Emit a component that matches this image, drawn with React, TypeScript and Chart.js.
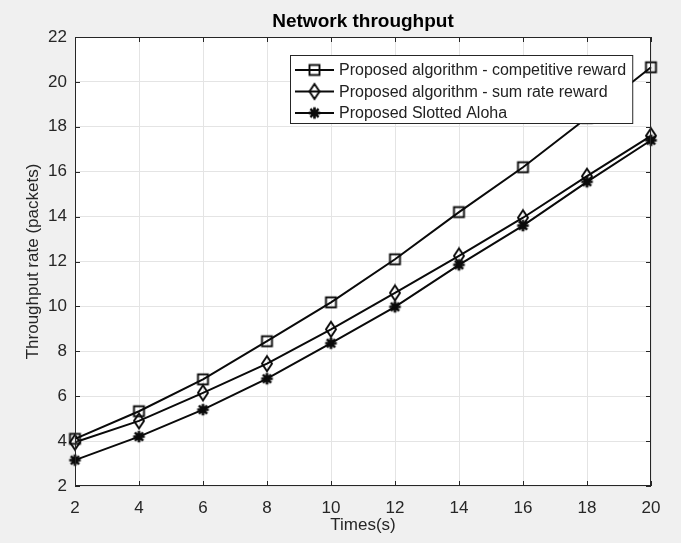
import React, { useEffect, useRef } from 'react';
import { Chart, registerables } from 'chart.js';

Chart.register(...registerables);

// ---- data ----
const times = [2, 4, 6, 8, 10, 12, 14, 16, 18, 20];
const competitiveReward = [4.1, 5.33, 6.75, 8.45, 10.18, 12.1, 14.2, 16.2, 18.4, 20.65];
const sumRateReward = [3.95, 4.9, 6.15, 7.45, 8.98, 10.6, 12.25, 13.95, 15.8, 17.6];
const slottedAloha = [3.15, 4.2, 5.4, 6.78, 8.36, 9.98, 11.85, 13.6, 15.55, 17.4];
const seriesLabels = [
  'Proposed algorithm - competitive reward',
  'Proposed algorithm - sum rate reward',
  'Proposed Slotted Aloha',
];
const chartTitle = 'Network throughput';
const xTitle = 'Times(s)';
const yTitle = 'Throughput rate (packets)';
const xMin = 2, xMax = 20, xStep = 2;
const yMin = 2, yMax = 22, yStep = 2;

const FONT = '"Liberation Sans", Arial, Helvetica, sans-serif';
const INK = '#0a0a0a';
const AXIS = '#262626';

function makeMarker(kind: string): HTMLCanvasElement {
  const c = document.createElement('canvas');
  const w = kind === 'diamond' ? 14 : 15;
  const h = kind === 'diamond' ? 19 : 15;
  c.width = w; c.height = h;
  const g = c.getContext('2d')!;
  g.strokeStyle = INK;
  g.lineWidth = 1.9;
  const cx = w / 2, cy = h / 2;
  if (kind === 'square') {
    g.strokeRect(cx - 5, cy - 5, 10, 10);
  } else if (kind === 'diamond') {
    g.beginPath();
    g.moveTo(cx, cy - 7.5);
    g.lineTo(cx + 5, cy);
    g.lineTo(cx, cy + 7.5);
    g.lineTo(cx - 5, cy);
    g.closePath();
    g.stroke();
  } else {
    g.lineWidth = 2.6;
    const r = 5.8;
    g.beginPath();
    for (let k = 0; k < 4; k++) {
      const a = (k * Math.PI) / 4;
      g.moveTo(cx - r * Math.cos(a), cy - r * Math.sin(a));
      g.lineTo(cx + r * Math.cos(a), cy + r * Math.sin(a));
    }
    g.stroke();
  }
  return c;
}

const bgPlugin = {
  id: 'bgPlugin',
  beforeDraw(chart: any) {
    const { ctx, chartArea: a } = chart;
    ctx.save();
    ctx.fillStyle = '#f0f0f0';
    ctx.fillRect(0, 0, chart.width, chart.height);
    ctx.fillStyle = '#ffffff';
    ctx.fillRect(a.left, a.top, a.right - a.left, a.bottom - a.top);
    ctx.restore();
  },
};

const framePlugin = {
  id: 'framePlugin',
  afterDatasetsDraw(chart: any) {
    const { ctx, chartArea: a, scales } = chart;
    ctx.save();
    // title centred over the plot area
    ctx.fillStyle = '#000000';
    ctx.font = `bold 19px ${FONT}`;
    ctx.textAlign = 'center';
    ctx.textBaseline = 'middle';
    ctx.fillText(chartTitle, (a.left + a.right) / 2, a.top - 15);

    ctx.strokeStyle = AXIS;
    ctx.lineWidth = 1;
    ctx.strokeRect(a.left + 0.5, a.top + 0.5, a.right - a.left - 1, a.bottom - a.top - 1);
    const tl = 5;
    ctx.beginPath();
    scales.x.ticks.forEach((t: any) => {
      const px = Math.round(scales.x.getPixelForValue(t.value)) + 0.5;
      ctx.moveTo(px, a.bottom); ctx.lineTo(px, a.bottom - tl);
      ctx.moveTo(px, a.top); ctx.lineTo(px, a.top + tl);
    });
    scales.y.ticks.forEach((t: any) => {
      const py = Math.round(scales.y.getPixelForValue(t.value)) + 0.5;
      ctx.moveTo(a.left, py); ctx.lineTo(a.left + tl, py);
      ctx.moveTo(a.right, py); ctx.lineTo(a.right - tl, py);
    });
    ctx.stroke();

    // legend box
    const ds = chart.data.datasets;
    ctx.font = `16px ${FONT}`;
    let maxW = 0;
    ds.forEach((d: any) => { maxW = Math.max(maxW, ctx.measureText(d.label).width); });
    const padL = 5, sampleLen = 39, gap = 5, padR = 6;
    const boxW = padL + sampleLen + gap + maxW + padR;
    const rowH = 21.5;
    const boxH = 68;
    const boxRight = a.right - 19;
    const boxLeft = Math.round(boxRight - boxW);
    const boxTop = a.top + 18;
    ctx.fillStyle = '#ffffff';
    ctx.fillRect(boxLeft, boxTop, boxW, boxH);
    ctx.strokeStyle = AXIS;
    ctx.lineWidth = 1;
    ctx.strokeRect(boxLeft + 0.5, boxTop + 0.5, boxW, boxH);
    ds.forEach((d: any, i: number) => {
      const y = boxTop + 15 + i * rowH;
      const x0 = boxLeft + padL;
      ctx.strokeStyle = INK;
      ctx.lineWidth = 2;
      ctx.beginPath();
      ctx.moveTo(x0, y); ctx.lineTo(x0 + sampleLen, y);
      ctx.stroke();
      const img = d.pointStyle as HTMLCanvasElement;
      ctx.drawImage(img, x0 + sampleLen / 2 - img.width / 2, y - img.height / 2);
      ctx.fillStyle = '#222222';
      ctx.textBaseline = 'middle';
      ctx.textAlign = 'left';
      ctx.fillText(d.label, x0 + sampleLen + gap, y + 1);
    });
    ctx.restore();
  },
};

export default function App() {
  const ref = useRef<HTMLCanvasElement | null>(null);
  useEffect(() => {
    if (!ref.current) return;
    const markers = [makeMarker('square'), makeMarker('diamond'), makeMarker('star')];
    const series = [competitiveReward, sumRateReward, slottedAloha];
    const chart = new Chart(ref.current, {
      type: 'line',
      data: {
        datasets: series.map((vals, i) => ({
          label: seriesLabels[i],
          data: times.map((t, j) => ({ x: t, y: vals[j] })),
          borderColor: INK,
          backgroundColor: 'transparent',
          borderWidth: 2,
          pointStyle: markers[i] as any,
          pointRadius: 6,
          tension: 0,
          clip: false as any,
          order: 3 - i,
        })),
      },
      options: {
        animation: false,
        responsive: false,
        layout: { padding: { left: 0, right: 30, top: 37, bottom: 0 } },
        plugins: {
          legend: { display: false },
          tooltip: { enabled: false },
          title: { display: false },
        },
        scales: {
          x: {
            type: 'linear',
            min: xMin,
            max: xMax,
            afterFit: (s: any) => { s.height = 57; },
            ticks: {
              stepSize: xStep,
              color: AXIS,
              padding: 12,
              font: { family: FONT, size: 17 },
              maxRotation: 0,
            },
            grid: { color: '#e4e4e4', drawTicks: false },
            border: { display: false },
            title: {
              display: true,
              text: xTitle,
              color: AXIS,
              font: { family: FONT, size: 17, lineHeight: 1.2 },
              padding: { top: 0, bottom: 7 },
            },
          },
          y: {
            type: 'linear',
            min: yMin,
            max: yMax,
            afterFit: (s: any) => { s.width = 75; },
            ticks: {
              stepSize: yStep,
              color: AXIS,
              padding: 8,
              font: { family: FONT, size: 17 },
            },
            grid: { color: '#e4e4e4', drawTicks: false },
            border: { display: false },
            title: {
              display: true,
              text: yTitle,
              color: AXIS,
              font: { family: FONT, size: 17, lineHeight: 1.2 },
              padding: { top: 23, bottom: 0 },
            },
          },
        },
      },
      plugins: [bgPlugin, framePlugin],
    });
    return () => chart.destroy();
  }, []);
  return (
    <div style={{ position: 'fixed', left: 0, top: 0, width: 681, height: 543, background: '#f0f0f0' }}>
      <canvas ref={ref} width={681} height={543} style={{ display: 'block', width: 681, height: 543 }} />
    </div>
  );
}
